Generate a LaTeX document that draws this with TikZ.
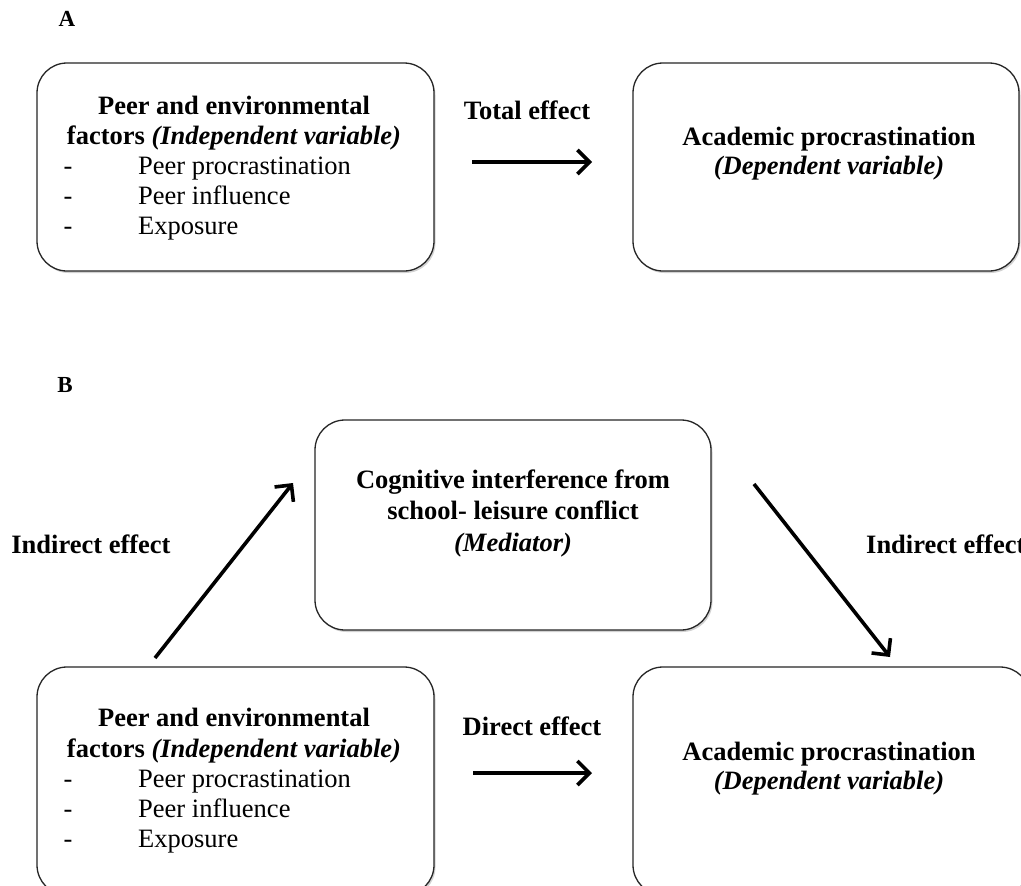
\documentclass[tikz,border=0pt]{standalone}
\usepackage{fontspec}
\setmainfont{Liberation Serif}
\usetikzlibrary{arrows.meta,shadows}
\begin{document}
\begin{tikzpicture}[x=1pt,y=-1pt,
  box/.style={draw=black!85, line width=1.3pt, rounded corners=30pt, fill=white,
    drop shadow={shadow xshift=1.5pt, shadow yshift=-2pt, opacity=0.35}, inner sep=0pt},
  txt/.style={font=\fontsize{26.5}{30}\selectfont, inner sep=0pt, text=black,
    text height=18pt, text depth=6pt},
  hd/.style={font=\fontsize{26.5}{30}\selectfont\bfseries, inner sep=0pt, text=black,
    text height=18pt, text depth=6pt},
  lbl/.style={font=\fontsize{23}{26}\selectfont\bfseries, inner sep=0pt},
  arr/.style={line width=3.6pt, -{Straight Barb[length=12pt,width=24pt,line width=3.6pt]}},
]
\clip (0,0) rectangle (1021,886);
\fill[white] (0,0) rectangle (1021,886);

% section labels
\node[lbl] (A) at (67,19) {A};
\node[lbl] (B) at (65,385) {B};

% ---------- Panel A ----------
\node[box, minimum width=397pt, minimum height=208pt] (tl) at (235.5,167) {};
\node[box, minimum width=386pt, minimum height=208pt] (tr) at (826,167) {};

\node[hd] (tl1) at (234,108) {Peer and environmental};
\node[hd] (tl2) at (234,138) {factors \textit{(Independent variable)}};
\node[txt] (tld1) at (68,168) {-};
\node[txt] (tld2) at (68,198) {-};
\node[txt] (tld3) at (68,228) {-};
\node[txt, anchor=west] (tli1) at (138,168) {Peer procrastination};
\node[txt, anchor=west] (tli2) at (138,198) {Peer influence};
\node[txt, anchor=west] (tli3) at (138,228) {Exposure};

\node[hd] (tr1) at (829,139) {Academic procrastination};
\node[hd] (tr2) at (829,168) {\textit{(Dependent variable)}};

\node[hd] (total) at (527,113) {Total effect};
\coordinate (ta) at (472,162);
\coordinate (tb) at (592,162);
\draw[arr] (ta) -- (tb);

% ---------- Panel B ----------
\node[box, minimum width=396pt, minimum height=210pt] (mid) at (513,525) {};
\node[hd] (m1) at (513,482) {Cognitive interference from};
\node[hd] (m2) at (513,513) {school- leisure conflict};
\node[hd] (m3) at (513,545) {\textit{(Mediator)}};

\node[box, minimum width=397pt, minimum height=228pt] (bl) at (235.5,781) {};
\node[box, minimum width=397pt, minimum height=228pt] (br) at (831.5,781) {};

\node[hd] (bl1) at (234,720) {Peer and environmental};
\node[hd] (bl2) at (234,751) {factors \textit{(Independent variable)}};
\node[txt] (bld1) at (68,781) {-};
\node[txt] (bld2) at (68,811) {-};
\node[txt] (bld3) at (68,841) {-};
\node[txt, anchor=west] (bli1) at (138,781) {Peer procrastination};
\node[txt, anchor=west] (bli2) at (138,811) {Peer influence};
\node[txt, anchor=west] (bli3) at (138,841) {Exposure};

\node[hd] (br1) at (829,754) {Academic procrastination};
\node[hd] (br2) at (829,783) {\textit{(Dependent variable)}};

\node[hd] (direct) at (532,729) {Direct effect};
\coordinate (da) at (473,773);
\coordinate (db) at (592,773);
\draw[arr] (da) -- (db);

\node[hd] (ind1) at (91,547) {Indirect effect};
\node[hd, anchor=west] (ind2) at (866,547) {Indirect effect};

\coordinate (la) at (155,658);
\coordinate (lb) at (293,483);
\draw[arr] (la) -- (lb);
\coordinate (ra) at (754,484);
\coordinate (rb) at (890,657);
\draw[arr] (ra) -- (rb);
\end{tikzpicture}
\end{document}
